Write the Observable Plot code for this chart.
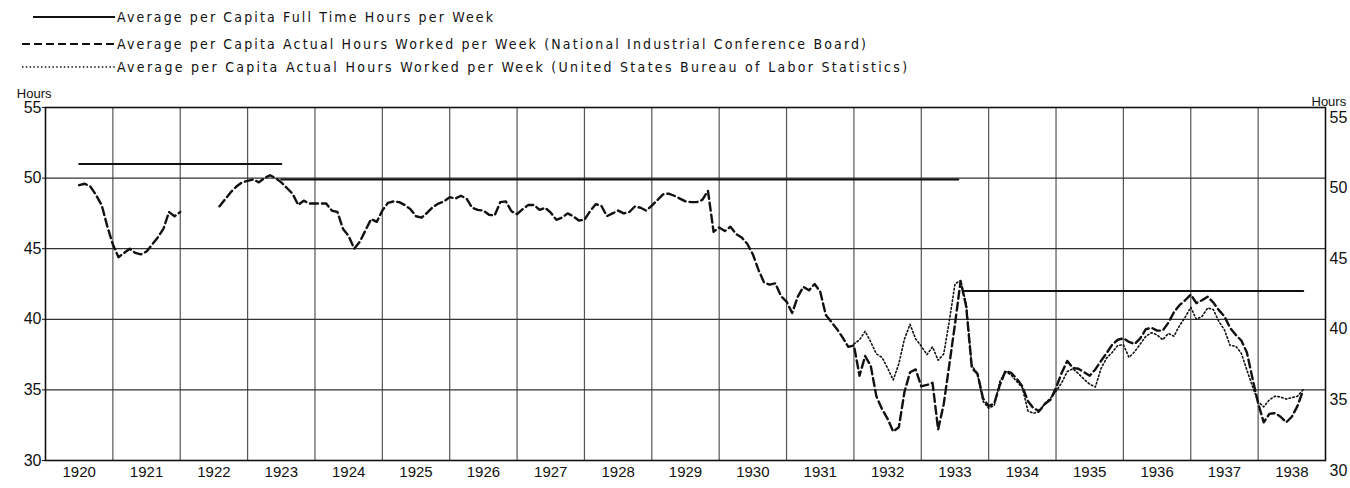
<!DOCTYPE html>
<html><head><meta charset="utf-8">
<script src="https://cdn.jsdelivr.net/npm/d3@7"></script>
<script src="https://cdn.jsdelivr.net/npm/@observablehq/plot@0.6"></script>
<style>
body{margin:0;background:#fff;}
#chart svg{display:block}
</style></head><body>
<div id="chart"></div>
<script>
// ---- data ----
const years = d3.range(1920, 1939);           // year columns 1920 … 1938
const yTicks = [30, 35, 40, 45, 50, 55];
const legendLabels = [
  "Average per Capita Full Time Hours per Week",
  "Average per Capita Actual Hours Worked per Week (National Industrial Conference Board)",
  "Average per Capita Actual Hours Worked per Week (United States Bureau of Labor Statistics)"
];

// National Industrial Conference Board, monthly from July 1920 (null = no data)
const nicbFirst = 1920 + 6 / 12;
const nicbHours = [
  49.5, 49.6, 49.4, 48.8, 48.1, 46.6,                                   // 1920 Jul–Dec
  45.3, 44.4, 44.7, 45.0, 44.7, 44.6, 44.8, 45.3, 45.8, 46.4, 47.6, 47.3, // 1921
  47.6, null, null, null, null, null, null, 48.0, 48.5, 49.0, 49.4, 49.7, // 1922
  49.8, 49.9, 49.7, 50.0, 50.2, 50.0, 49.7, 49.3, 48.9, 48.1, 48.4, 48.2, // 1923
  48.2, 48.2, 48.2, 47.7, 47.6, 46.4, 45.9, 45.0, 45.5, 46.3, 47.1, 46.9, // 1924
  47.7, 48.25, 48.35, 48.3, 48.1, 47.8, 47.3, 47.2, 47.55, 47.95, 48.2, 48.35, // 1925
  48.65, 48.55, 48.75, 48.55, 47.9, 47.75, 47.7, 47.4, 47.35, 48.3, 48.35, 47.65, // 1926
  47.45, 47.8, 48.1, 48.1, 47.75, 47.9, 47.55, 47.05, 47.2, 47.5, 47.3, 47.0, // 1927
  47.05, 47.65, 48.15, 48.05, 47.3, 47.5, 47.7, 47.5, 47.6, 48.0, 47.9, 47.7, // 1928
  48.05, 48.45, 48.85, 48.9, 48.75, 48.55, 48.35, 48.3, 48.3, 48.45, 49.1, 46.2, // 1929
  46.5, 46.25, 46.55, 46.05, 45.8, 45.35, 44.6, 43.5, 42.6, 42.45, 42.55, 41.65, // 1930
  41.25, 40.45, 41.6, 42.3, 42.05, 42.5, 41.95, 40.3, 39.8, 39.3, 38.7, 38.05, // 1931
  38.15, 36.0, 37.4, 36.7, 34.55, 33.65, 32.95, 32.05, 32.35, 34.85, 36.25, 36.45, // 1932
  35.25, 35.35, 35.5, 32.2, 34.0, 36.8, 39.65, 42.7, 40.9, 36.55, 36.15, 34.4, // 1933
  33.85, 34.05, 35.35, 36.35, 36.2, 35.8, 35.25, 34.2, 33.7, 33.5, 34.0, 34.3, // 1934
  35.15, 36.2, 37.05, 36.55, 36.5, 36.25, 36.0, 36.45, 37.05, 37.6, 38.2, 38.55, // 1935
  38.65, 38.4, 38.25, 38.65, 39.3, 39.4, 39.2, 39.2, 39.75, 40.5, 41.0, 41.35, // 1936
  41.75, 41.15, 41.35, 41.6, 41.2, 40.65, 40.2, 39.4, 38.9, 38.5, 37.65, 35.8, // 1937
  34.05, 32.7, 33.3, 33.35, 33.1, 32.7, 33.1, 33.85, 34.95                 // 1938 Jan–Sep
];

// United States Bureau of Labor Statistics, monthly from January 1932
const blsFirst = 1932;
const blsHours = [
  38.25, 38.55, 39.15, 38.4, 37.55, 37.3, 36.55, 35.7, 36.85, 38.6, 39.65, 38.6, // 1932
  38.1, 37.5, 38.05, 37.1, 37.55, 39.9, 42.5, 42.75, 41.1, 36.75, 36.15, 34.2,   // 1933
  33.7, 33.9, 35.6, 36.3, 36.05, 35.6, 35.15, 33.5, 33.35, 33.45, 34.05, 34.4,   // 1934
  34.9, 35.5, 36.3, 36.5, 36.15, 35.75, 35.4, 35.2, 36.5, 37.25, 37.65, 38.15,   // 1935
  38.2, 37.3, 37.7, 38.25, 38.8, 39.05, 38.9, 38.55, 39.0, 38.8, 39.55, 40.15,   // 1936
  40.85, 40.0, 40.2, 40.8, 40.7, 39.85, 39.25, 38.15, 38.1, 37.6, 36.4, 35.25,   // 1937
  34.15, 33.8, 34.3, 34.55, 34.5, 34.35, 34.45, 34.55, 35.0                      // 1938 Jan–Sep
];

// Full time hours: flat levels over periods
const fullStart = [1920.5, 1923.5, 1933.62];
const fullEnd   = [1923.5, 1933.55, 1938.67];
const fullHours = [51.0, 49.9, 42.0];

// ---- tables built from the arrays ----
const nicb = nicbHours.map((v, i) => ({t: nicbFirst + i / 12, v}));
const bls = blsHours.map((v, i) => ({t: blsFirst + i / 12, v}));
const full = fullHours.flatMap((v, i) => [
  {t: fullStart[i], v, seg: i}, {t: fullEnd[i], v, seg: i}
]);

const FONT = "Liberation Sans, Arial, sans-serif";
const LFONT = "DejaVu Sans Condensed, Liberation Sans Narrow, sans-serif";

// ---- legend (above the plot) ----
const legendH = 78;
const leg = d3.create("svg").attr("width", 1350).attr("height", legendH);
const styles = [
  {dash: null, w: 1.8, x1: 33},
  {dash: "8,4", w: 2.2, x1: 22},
  {dash: "1.5,2.3", w: 1.5, x1: 22}
];
const rowsY = [17, 44, 67];
legendLabels.forEach((lab, i) => {
  leg.append("line").attr("x1", styles[i].x1).attr("x2", 115).attr("y1", rowsY[i]).attr("y2", rowsY[i])
    .attr("stroke", "#111").attr("stroke-width", styles[i].w)
    .attr("stroke-dasharray", styles[i].dash);
  leg.append("text").attr("x", 117).attr("y", rowsY[i]).attr("dy", "0.35em")
    .attr("font-family", LFONT).attr("font-size", 14).attr("letter-spacing", i === 2 ? "2.3px" : "2.15px")
    .attr("fill", "#111").text(lab);
});
document.getElementById("chart").appendChild(leg.node());

// ---- plot ----
const chart = Plot.plot({
  width: 1350,
  height: 410,
  marginTop: 29,
  marginBottom: 28,
  marginLeft: 45,
  marginRight: 25,
  style: {fontFamily: FONT, background: "#fff", color: "#111"},
  x: {domain: [1920, 1939], axis: null},
  y: {domain: [30, 55], axis: null},
  marks: [
    Plot.ruleX(years.slice(1), {stroke: "#555", strokeWidth: 1.2}),
    Plot.ruleY(yTicks.slice(1, -1), {stroke: "#333", strokeWidth: 1.2}),
    Plot.frame({stroke: "#111", strokeWidth: 1.6}),
    Plot.axisX(years.map(y => y + 0.5), {
      tickSize: 0, tickPadding: 6, fontSize: 15, label: null, tickFormat: d => String(Math.floor(d))
    }),
    Plot.axisY(yTicks, {anchor: "left", tickSize: 3, tickPadding: 1, fontSize: 16, label: null}),
    Plot.axisY(yTicks, {anchor: "right", tickSize: 0, tickPadding: 4, fontSize: 16, label: null, dy: 10}),
    Plot.text(["Hours"], {frameAnchor: "top-left", dx: 6, dy: -19, textAnchor: "end", fontSize: 13}),
    Plot.text(["Hours"], {frameAnchor: "top-right", dx: -14, dy: -11, textAnchor: "start", fontSize: 13}),
    Plot.line(full, {x: "t", y: "v", z: "seg", stroke: "#111", strokeWidth: 2}),
    Plot.line(bls, {x: "t", y: "v", stroke: "#111", strokeWidth: 1.6, strokeDasharray: "1.5,2.4", curve: "linear"}),
    Plot.line(nicb, {x: "t", y: "v", stroke: "#111", strokeWidth: 2.4, strokeDasharray: "8,4", curve: "linear"})
  ]
});
document.getElementById("chart").appendChild(chart);
</script>
</body></html>
